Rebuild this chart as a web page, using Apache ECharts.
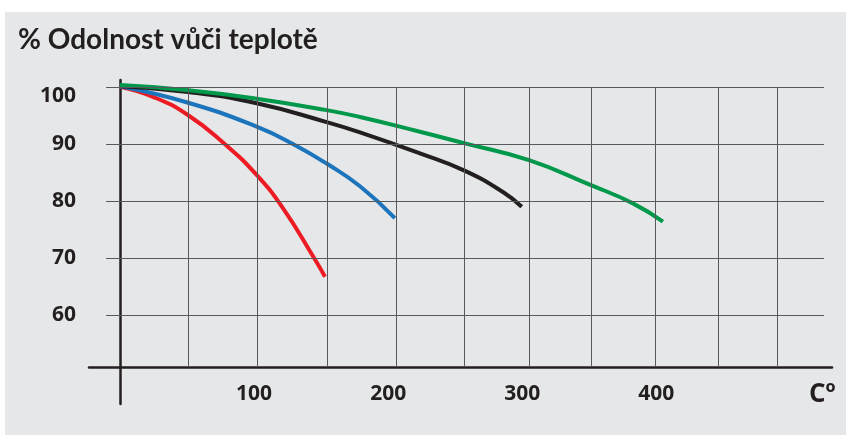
<!DOCTYPE html>
<html>
<head>
<meta charset="utf-8">
<script src="https://cdn.jsdelivr.net/npm/echarts@6/dist/echarts.min.js"></script>
<style>
  body { margin: 0; background: #fff; }
  #chart { position: absolute; left: 5px; top: 12px; width: 841px; height: 423px; background: #e6e7e8; }
</style>
</head>
<body>
<div id="chart"></div>
<script>
// popisky os
const xLabels = [100, 200, 300, 400]
const yLabels = [60, 70, 80, 90, 100]
// mrizka
const gridTemps = [50.7, 102.2, 154.4, 205.8, 256.5, 305, 351.2, 399, 446, 490]
const gridPercents = [60, 70, 80, 90, 100]

// krivky: teplota / odolnost %
const redTemp = [0, 25, 50.9, 78.3, 101.9, 122, 144.2, 152.9]
const redVal = [100.1, 98.3, 95.1, 90.0, 84.6, 78.6, 70.2, 66.7]
const blueTemp = [0, 50.9, 101.9, 129.3, 154.1, 179, 205]
const blueVal = [100.2, 97.3, 93.1, 90.0, 86.6, 82.6, 77.0]
const blackTemp = [0, 50.9, 101.9, 154.1, 179, 223.7, 256.5, 285.6, 299.6]
const blackVal = [100.2, 99.2, 97.2, 93.9, 92.1, 88.4, 85.4, 81.6, 79.0]
const greenTemp = [0, 50.9, 101.9, 154.1, 179, 223.7, 256.5, 305, 351.2, 382.5, 404.9]
const greenVal = [100.4, 99.5, 98.0, 96.0, 94.8, 92.2, 90.2, 87.2, 82.8, 79.6, 76.4]

const font = 'Open Sans'
const ink = '#231f20'

function pairs (xs, ys) {
  return xs.map((x, i) => [x, ys[i]])
}

function curve (name, color, xs, ys) {
  return {
    name: name,
    type: 'line',
    smooth: 0.5,
    showSymbol: false,
    z: 3,
    lineStyle: { color: color, width: 4 },
    data: pairs(xs, ys)
  }
}

// mrizka jako markLine
let gridLines = []
gridPercents.forEach(v => {
  gridLines.push([{ coord: [-10.4, v] }, { coord: [525, v] }])
})
gridTemps.forEach(t => {
  gridLines.push([{ coord: [t, 50.83] }, { coord: [t, 100] }])
})

let myChart = echarts.init(document.getElementById('chart'))
myChart.setOption({
  animation: false,
  title: [
    {
      text: '% Odolnost vůči teplotě',
      left: 8,
      top: 9,
      textStyle: { fontFamily: 'Lato', fontWeight: 'bold', fontSize: 28, color: ink }
    },
    {
      text: 'Cº',
      left: 799,
      top: 365,
      textStyle: { fontFamily: font, fontWeight: 'bold', fontSize: 26, color: ink }
    }
  ],
  grid: { left: 84, right: 14, top: 68, bottom: 31 },
  xAxis: {
    type: 'value',
    min: -23.1,
    max: 531,
    offset: -37,
    axisLine: { show: true, onZero: false, lineStyle: { color: ink, width: 2.5 } },
    axisTick: { show: false },
    splitLine: { show: false },
    axisLabel: {
      customValues: xLabels,
      margin: 17,
      fontFamily: font,
      fontWeight: 'bold',
      fontSize: 21,
      color: ink
    }
  },
  yAxis: {
    type: 'value',
    min: 44.3,
    max: 101.3,
    axisLine: { show: true, onZero: true, lineStyle: { color: ink, width: 2.5 } },
    axisTick: { show: false },
    splitLine: { show: false },
    axisLabel: {
      customValues: yLabels,
      margin: 13,
      fontFamily: font,
      fontWeight: 'bold',
      fontSize: 21,
      color: ink,
      formatter: v => v === 100 ? '{low|100}' : String(v),
      rich: {
        low: { fontFamily: font, fontWeight: 'bold', fontSize: 21, color: ink, padding: [18, 0, 0, 0] }
      }
    }
  },
  series: [
    {
      type: 'line',
      data: [],
      z: 1,
      silent: true,
      markLine: {
        silent: true,
        symbol: 'none',
        label: { show: false },
        lineStyle: { color: '#58595b', width: 1, type: 'solid' },
        data: gridLines
      }
    },
    curve('red', '#ed1c24', redTemp, redVal),
    curve('blue', '#1c75bc', blueTemp, blueVal),
    curve('black', ink, blackTemp, blackVal),
    curve('green', '#00984a', greenTemp, greenVal)
  ]
})
</script>
</body>
</html>
